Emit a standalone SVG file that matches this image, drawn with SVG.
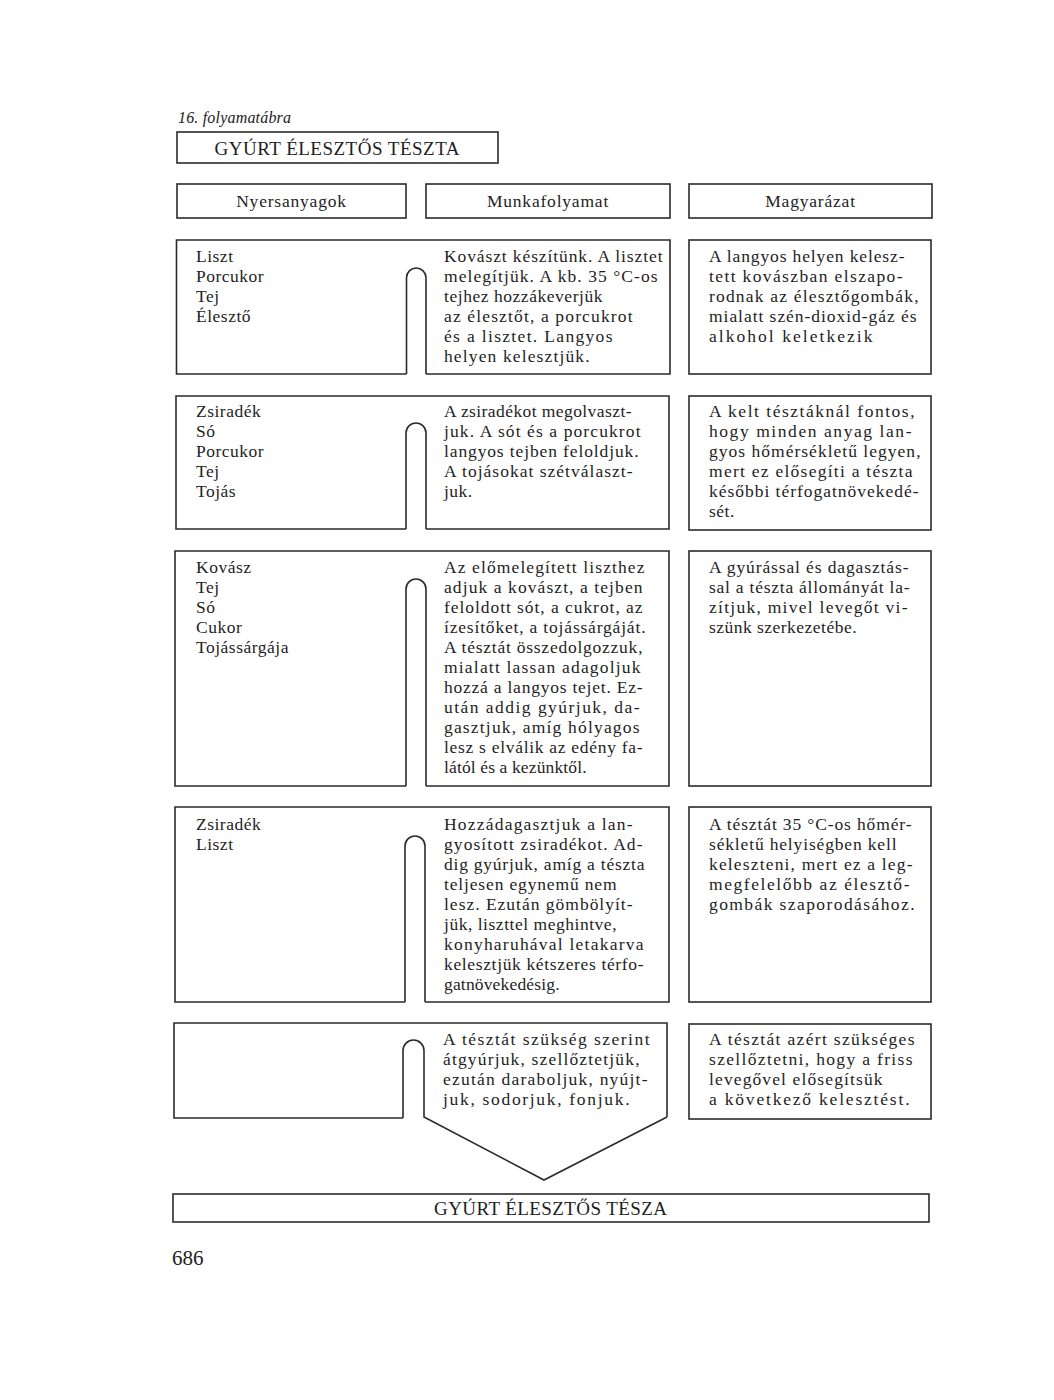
<svg xmlns="http://www.w3.org/2000/svg" width="1054" height="1400" viewBox="0 0 1054 1400">
<style>
.bg{fill:#ffffff}
.ln{fill:none;stroke:#2b2b2b;stroke-width:1.6;stroke-linejoin:miter}
.bx{fill:#ffffff;stroke:#2b2b2b;stroke-width:1.6}
.t{font-family:"Liberation Serif","Times New Roman",serif;font-size:17.5px;fill:#1e1e1e;letter-spacing:0.5px}
.h{font-family:"Liberation Serif","Times New Roman",serif;font-size:17.5px;fill:#1e1e1e;letter-spacing:0.8px;text-anchor:middle}
.ti{font-family:"Liberation Serif","Times New Roman",serif;font-size:19px;fill:#1e1e1e;letter-spacing:1px;text-anchor:middle}
.cap{font-family:"Liberation Serif","Times New Roman",serif;font-size:16px;font-style:italic;fill:#222}
.pg{font-family:"Liberation Serif","Times New Roman",serif;font-size:21px;fill:#1e1e1e}
</style>
<rect class="bg" x="0" y="0" width="1054" height="1400"/>

<text class="cap" x="178" y="123" textLength="113">16.  folyamatábra</text>

<g id="title">
<rect class="bx" x="177" y="132" width="321" height="31"/>
<text class="ti" x="337.5" y="155" textLength="246">GYÚRT ÉLESZTŐS TÉSZTA</text>
</g>

<g id="head-nyersanyagok">
<rect class="bx" x="177" y="184" width="229" height="34"/>
<text class="h" x="291.5" y="207">Nyersanyagok</text>
</g>
<g id="head-munkafolyamat">
<rect class="bx" x="426" y="184" width="244" height="34"/>
<text class="h" x="548" y="207">Munkafolyamat</text>
</g>
<g id="head-magyarazat">
<rect class="bx" x="689" y="184" width="243" height="34"/>
<text class="h" x="810.5" y="207">Magyarázat</text>
</g>

<!-- Row 1 -->
<g id="row1">
<path class="ln" d="M406.5,374 H176.5 V240 H670 V374 H426"/>
<text class="t" x="196" y="262">Liszt</text>
<text class="t" x="196" y="282">Porcukor</text>
<text class="t" x="196" y="302">Tej</text>
<text class="t" x="196" y="322">Élesztő</text>
<text class="t" x="444" y="262" textLength="219">Kovászt készítünk. A lisztet</text>
<text class="t" x="444" y="282" textLength="214">melegítjük. A kb. 35 °C-os</text>
<text class="t" x="444" y="302" textLength="159">tejhez hozzákeverjük</text>
<text class="t" x="444" y="322" textLength="189">az élesztőt, a porcukrot</text>
<text class="t" x="444" y="342" textLength="169">és a lisztet. Langyos</text>
<text class="t" x="444" y="362" textLength="146">helyen kelesztjük.</text>
</g>
<g id="expl1">
<rect class="bx" x="689" y="240" width="242" height="134"/>
<text class="t" x="709" y="262" textLength="196">A langyos helyen kelesz-</text>
<text class="t" x="709" y="282" textLength="194">tett kovászban elszapo-</text>
<text class="t" x="709" y="302" textLength="210">rodnak az élesztőgombák,</text>
<text class="t" x="709" y="322" textLength="208">mialatt szén-dioxid-gáz és</text>
<text class="t" x="709" y="342" textLength="164">alkohol keletkezik</text>
</g>

<!-- Row 2 -->
<g id="row2">
<path class="ln" d="M406,529 H176 V396 H669 V529 H426"/>
<text class="t" x="196" y="417">Zsiradék</text>
<text class="t" x="196" y="437">Só</text>
<text class="t" x="196" y="457">Porcukor</text>
<text class="t" x="196" y="477">Tej</text>
<text class="t" x="196" y="497">Tojás</text>
<text class="t" x="444" y="417" textLength="188">A zsiradékot megolvaszt-</text>
<text class="t" x="444" y="437" textLength="197">juk. A sót és a porcukrot</text>
<text class="t" x="444" y="457" textLength="195">langyos tejben feloldjuk.</text>
<text class="t" x="444" y="477" textLength="189">A tojásokat szétválaszt-</text>
<text class="t" x="444" y="497">juk.</text>
</g>
<g id="expl2">
<rect class="bx" x="689" y="396" width="242" height="134"/>
<text class="t" x="709" y="417" textLength="206">A kelt tésztáknál fontos,</text>
<text class="t" x="709" y="437" textLength="203">hogy minden anyag lan-</text>
<text class="t" x="709" y="457" textLength="212">gyos hőmérsékletű legyen,</text>
<text class="t" x="709" y="477" textLength="204">mert ez elősegíti a tészta</text>
<text class="t" x="709" y="497" textLength="210">későbbi térfogatnövekedé-</text>
<text class="t" x="709" y="517">sét.</text>
</g>

<!-- Row 3 -->
<g id="row3">
<path class="ln" d="M406,786 H175 V551 H669 V786 H426"/>
<text class="t" x="196" y="573">Kovász</text>
<text class="t" x="196" y="593">Tej</text>
<text class="t" x="196" y="613">Só</text>
<text class="t" x="196" y="633">Cukor</text>
<text class="t" x="196" y="653">Tojássárgája</text>
<text class="t" x="444" y="573" textLength="201">Az előmelegített liszthez</text>
<text class="t" x="444" y="593" textLength="199">adjuk a kovászt, a tejben</text>
<text class="t" x="444" y="613" textLength="199">feloldott sót, a cukrot, az</text>
<text class="t" x="444" y="633" textLength="202">ízesítőket, a tojássárgáját.</text>
<text class="t" x="444" y="653" textLength="199">A tésztát összedolgozzuk,</text>
<text class="t" x="444" y="673" textLength="197">mialatt lassan adagoljuk</text>
<text class="t" x="444" y="693" textLength="199">hozzá a langyos tejet. Ez-</text>
<text class="t" x="444" y="713" textLength="196">után addig gyúrjuk, da-</text>
<text class="t" x="444" y="733" textLength="196">gasztjuk, amíg hólyagos</text>
<text class="t" x="444" y="753" textLength="199">lesz s elválik az edény fa-</text>
<text class="t" x="444" y="773" textLength="143">lától és a kezünktől.</text>
</g>
<g id="expl3">
<rect class="bx" x="689" y="551" width="242" height="235"/>
<text class="t" x="709" y="573" textLength="200">A gyúrással és dagasztás-</text>
<text class="t" x="709" y="593" textLength="201">sal a tészta állományát la-</text>
<text class="t" x="709" y="613" textLength="199">zítjuk, mivel levegőt vi-</text>
<text class="t" x="709" y="633" textLength="148">szünk szerkezetébe.</text>
</g>

<!-- Row 4 -->
<g id="row4">
<path class="ln" d="M405,1002 H175 V807 H669 V1002 H425"/>
<text class="t" x="196" y="830">Zsiradék</text>
<text class="t" x="196" y="850">Liszt</text>
<text class="t" x="444" y="830" textLength="189">Hozzádagasztjuk a lan-</text>
<text class="t" x="444" y="850" textLength="199">gyosított zsiradékot. Ad-</text>
<text class="t" x="444" y="870" textLength="201">dig gyúrjuk, amíg a tészta</text>
<text class="t" x="444" y="890" textLength="173">teljesen egynemű nem</text>
<text class="t" x="444" y="910" textLength="189">lesz. Ezután gömbölyít-</text>
<text class="t" x="444" y="930" textLength="173">jük, liszttel meghintve,</text>
<text class="t" x="444" y="950" textLength="200">konyharuhával letakarva</text>
<text class="t" x="444" y="970" textLength="200">kelesztjük kétszeres térfo-</text>
<text class="t" x="444" y="990" textLength="116">gatnövekedésig.</text>
</g>
<g id="expl4">
<rect class="bx" x="689" y="807" width="242" height="195"/>
<text class="t" x="709" y="830" textLength="203">A tésztát 35 °C-os hőmér-</text>
<text class="t" x="709" y="850" textLength="188">sékletű helyiségben kell</text>
<text class="t" x="709" y="870" textLength="204">keleszteni, mert ez a leg-</text>
<text class="t" x="709" y="890" textLength="201">megfelelőbb az élesztő-</text>
<text class="t" x="709" y="910" textLength="206">gombák szaporodásához.</text>
</g>

<!-- Row 5 -->
<g id="row5">
<path class="ln" d="M403,1118 H174 V1023 H667 V1117"/>
<text class="t" x="443" y="1045" textLength="207">A tésztát szükség szerint</text>
<text class="t" x="443" y="1065" textLength="197">átgyúrjuk, szellőztetjük,</text>
<text class="t" x="443" y="1085" textLength="205">ezután daraboljuk, nyújt-</text>
<text class="t" x="443" y="1105" textLength="187">juk, sodorjuk, fonjuk.</text>
</g>
<g id="expl5">
<rect class="bx" x="689" y="1024" width="242" height="95"/>
<text class="t" x="709" y="1045" textLength="206">A tésztát azért szükséges</text>
<text class="t" x="709" y="1065" textLength="204">szellőztetni, hogy a friss</text>
<text class="t" x="709" y="1085" textLength="174">levegővel elősegítsük</text>
<text class="t" x="709" y="1105" textLength="201">a következő kelesztést.</text>
</g>

<g id="connectors">
<path class="ln" d="M406.5,374 V277.75 A9.75,9.75 0 0 1 426,277.75 V374"/>
<path class="ln" d="M406,529 V433 A10,10 0 0 1 426,433 V529"/>
<path class="ln" d="M406,786 V589 A10,10 0 0 1 426,589 V786"/>
<path class="ln" d="M405,1002 V846 A10,10 0 0 1 425,846 V1002"/>
<path class="ln" d="M403,1118 V1050.5 A10.5,10.5 0 0 1 424,1050.5 V1117 L544,1180 L667,1117"/>
</g>

<g id="final">
<rect class="bx" x="173" y="1194" width="756" height="28"/>
<text class="ti" x="551" y="1215" textLength="234">GYÚRT ÉLESZTŐS TÉSZA</text>
</g>

<text class="pg" x="172" y="1265">686</text>
</svg>
